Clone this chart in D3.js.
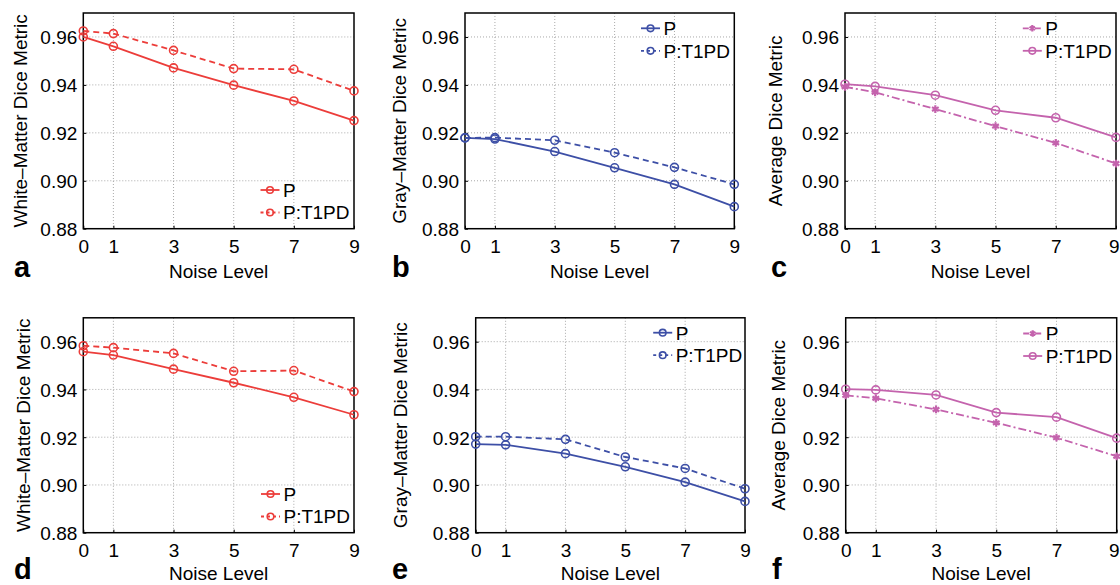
<!DOCTYPE html>
<html>
<head>
<meta charset="utf-8">
<script src="https://cdn.jsdelivr.net/npm/d3@7"></script>
<style>
  body { margin:0; background:#fff; }
  svg text { font-family:"Liberation Sans", Arial, sans-serif; fill:#000; }
</style>
</head>
<body>
<svg id="chart" width="1120" height="585"></svg>
<script>
// x values + ticks
var noiseLevels = [0,1,3,5,7,9]
var yTicks = [0.88,0.90,0.92,0.94,0.96]
var legendNames = ["P","P:T1PD"]

// row 1 (a,b,c)
var wmP_a     = [0.9600,0.9561,0.9471,0.9399,0.9333,0.9251]
var wmT1PD_a  = [0.9625,0.9614,0.9544,0.9468,0.9465,0.9375]
var gmP_b     = [0.9179,0.9174,0.9122,0.9054,0.8985,0.8892]
var gmT1PD_b  = [0.9179,0.9180,0.9169,0.9117,0.9056,0.8985]
var avgP_c    = [0.9392,0.9369,0.9299,0.9228,0.9158,0.9072]
var avgT1PD_c = [0.9403,0.9394,0.9357,0.9294,0.9263,0.9181]

// row 2 (d,e,f)
var wmP_d     = [0.9558,0.9544,0.9485,0.9428,0.9367,0.9294]
var wmT1PD_d  = [0.9583,0.9575,0.9551,0.9476,0.9479,0.9391]
var gmP_e     = [0.9171,0.9168,0.9131,0.9076,0.9012,0.8931]
var gmT1PD_e  = [0.9202,0.9202,0.9191,0.9117,0.9069,0.8984]
var avgP_f    = [0.9375,0.9363,0.9316,0.9260,0.9198,0.9120]
var avgT1PD_f = [0.9401,0.9398,0.9377,0.9303,0.9284,0.9196]

var red = "#ec3d3a", blue = "#3d4fa6", pink = "#c463ad"

// style for each series kind
var solidCircle = {dash:null, marker:"circle"}
var dashCircle = {dash:"6,4", marker:"circle"}
var dashDotStar = {dash:"8,3,2,3", marker:"star"}

var panels = [
  {letter:"a", ylabel:"White\u2013Matter Dice Metric", color:red, left:83.3, right:354, top:13, bottom:228.7, ylabX:26.7, letX:14, xlabDy:49.5,
   series:[{v:wmP_a, s:solidCircle},{v:wmT1PD_a, s:dashCircle}], legX:270, legY:190},
  {letter:"b", ylabel:"Gray\u2013Matter Dice Metric", color:blue, left:465, right:734.3, top:13, bottom:228.7, ylabX:405.5, letX:392, xlabDy:49.5,
   series:[{v:gmP_b, s:solidCircle},{v:gmT1PD_b, s:dashCircle}], legX:650.5, legY:28.3},
  {letter:"c", ylabel:"Average Dice Metric", color:pink, left:845, right:1116, top:13, bottom:228.7, ylabX:782, letX:771, xlabDy:49.5,
   series:[{v:avgP_c, s:dashDotStar},{v:avgT1PD_c, s:solidCircle}], legX:1032.3, legY:28.3},
  {letter:"d", ylabel:"White\u2013Matter Dice Metric", color:red, left:83.3, right:354, top:317.8, bottom:532.7, ylabX:30.4, letX:14, xlabDy:47,
   series:[{v:wmP_d, s:solidCircle},{v:wmT1PD_d, s:dashCircle}], legX:270.5, legY:494},
  {letter:"e", ylabel:"Gray\u2013Matter Dice Metric", color:blue, left:475.7, right:745, top:317.8, bottom:532.7, ylabX:407, letX:392, xlabDy:47,
   series:[{v:gmP_e, s:solidCircle},{v:gmT1PD_e, s:dashCircle}], legX:662.7, legY:332.7},
  {letter:"f", ylabel:"Average Dice Metric", color:pink, left:845.7, right:1116.7, top:317.8, bottom:532.7, ylabX:785.4, letX:772, xlabDy:47,
   series:[{v:avgP_f, s:dashDotStar},{v:avgT1PD_f, s:solidCircle}], legX:1032.7, legY:333.5}
]

var svg = d3.select("#chart")

function drawMarker(g, kind, cx, cy, color, r){
  if(kind=="circle"){
    g.append("circle").attr("cx",cx).attr("cy",cy).attr("r",r)
      .attr("fill","none").attr("stroke",color).attr("stroke-width",1.6)
  }else{
    g.append("path").attr("d",d3.symbol(d3.symbolAsterisk, r*r*2.6)())
      .attr("transform","translate("+cx+","+cy+")")
      .attr("fill","none").attr("stroke",color).attr("stroke-width",2.2)
  }
}

panels.forEach(function(p){
  var x = d3.scaleLinear().domain([0,9]).range([p.left,p.right])
  var y = d3.scaleLinear().domain([0.88,0.97]).range([p.bottom,p.top])
  var g = svg.append("g")

  // dotted grid
  g.selectAll(".gx").data(noiseLevels.slice(1,-1)).enter().append("line")
    .attr("x1",function(d){return x(d)}).attr("x2",function(d){return x(d)})
    .attr("y1",p.top).attr("y2",p.bottom)
    .attr("stroke","#aaa").attr("stroke-width",1).attr("stroke-dasharray","1,2")
  g.selectAll(".gy").data(yTicks.slice(1)).enter().append("line")
    .attr("y1",function(d){return y(d)}).attr("y2",function(d){return y(d)})
    .attr("x1",p.left).attr("x2",p.right)
    .attr("stroke","#aaa").attr("stroke-width",1).attr("stroke-dasharray","1,2")

  // axes
  var ax = g.append("g").attr("transform","translate(0,"+p.bottom+")")
    .call(d3.axisBottom(x).tickValues(noiseLevels).tickSizeInner(-3).tickSizeOuter(0).tickPadding(8).tickFormat(d3.format("d")))
  var ay = g.append("g").attr("transform","translate("+p.left+",0)")
    .call(d3.axisLeft(y).tickValues(yTicks).tickSizeInner(-3).tickSizeOuter(0).tickPadding(6).tickFormat(d3.format(".2f")))
  ax.select(".domain").remove(); ay.select(".domain").remove()
  ax.selectAll("text").attr("font-size","19px").attr("font-family","Liberation Sans, Arial, sans-serif").attr("fill","#000")
    .attr("dy",null).attr("y",24)
  // keep the last label inside the page at the right edge
  ax.selectAll(".tick").filter(function(d){return d==9 && x(9)>1110})
    .select("text").attr("text-anchor","end").attr("x",1119-x(9))
  ay.selectAll("text").attr("font-size","19px").attr("font-family","Liberation Sans, Arial, sans-serif").attr("fill","#000")
    .attr("dy","0.36em").attr("x",-6)
  g.selectAll(".tick line").attr("stroke","#000")

  // box
  g.append("rect").attr("x",p.left).attr("y",p.top)
    .attr("width",p.right-p.left).attr("height",p.bottom-p.top)
    .attr("fill","none").attr("stroke","#000").attr("stroke-width",1.5)

  // lines + markers
  p.series.forEach(function(s){
    var line = d3.line().x(function(d,i){return x(noiseLevels[i])}).y(function(d){return y(d)})
    g.append("path").datum(s.v).attr("d",line).attr("fill","none")
      .attr("stroke",p.color).attr("stroke-width",1.8)
      .attr("stroke-dasharray",s.s.dash)
    s.v.forEach(function(d,i){
      drawMarker(g, s.s.marker, x(noiseLevels[i]), y(d), p.color, 4)
    })
  })

  // legend
  p.series.forEach(function(s,i){
    var ly = p.legY + i*22.5
    g.append("line").attr("x1",p.legX-9.5).attr("x2",p.legX+9.5)
      .attr("y1",ly).attr("y2",ly).attr("stroke",p.color).attr("stroke-width",1.8)
      .attr("stroke-dasharray",s.s.dash ? (s.s.marker=="star" ? "6,2,2,2" : "3,3") : null)
    drawMarker(g, s.s.marker, p.legX, ly, p.color, 3.3)
    g.append("text").attr("x",p.legX+13).attr("y",ly).attr("dy","0.36em")
      .attr("font-size","19px").text(legendNames[i])
  })

  // labels
  g.append("text").attr("x",(p.left+p.right)/2).attr("y",p.bottom+p.xlabDy)
    .attr("text-anchor","middle").attr("font-size","19px").text("Noise Level")
  g.append("text").attr("transform","translate("+p.ylabX+","+((p.top+p.bottom)/2)+") rotate(-90)")
    .attr("text-anchor","middle").attr("font-size","19px").text(p.ylabel)
  g.append("text").attr("x",p.letX).attr("y",p.bottom+p.xlabDy-1)
    .attr("font-size","29px").attr("font-weight","bold").text(p.letter)
})
</script>
</body>
</html>
